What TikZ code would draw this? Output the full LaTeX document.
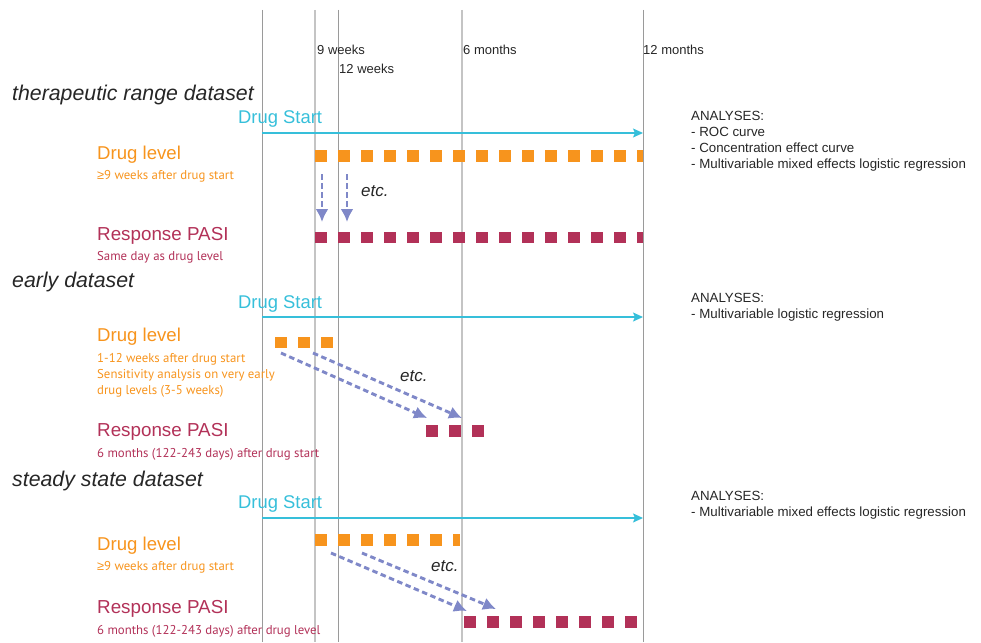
\documentclass[tikz,border=0pt]{standalone}
\usepackage{fontspec}
\setmainfont{Liberation Sans}
\newfontfamily\subfont{PT Sans}
\newfontfamily\symfont{Liberation Sans}
\usetikzlibrary{arrows.meta}
\definecolor{orng}{HTML}{F7941D}
\definecolor{magn}{HTML}{B23158}
\definecolor{cyn}{HTML}{36BFDA}
\definecolor{peri}{HTML}{7F88C8}
\definecolor{txt}{HTML}{262626}
\definecolor{grid}{HTML}{9A9A9A}
\definecolor{gridl}{HTML}{C4C4C4}
\tikzset{
  vline/.style={draw=grid, line width=0.9pt},
  vlinel/.style={draw=gridl, line width=1.6pt},
  tlabel/.style={anchor=west, inner sep=0pt, text=txt, font=\fontsize{13}{15}\selectfont},
  title/.style={anchor=west, inner sep=0pt, text=txt, font=\fontsize{21.3}{24}\selectfont\itshape},
  startlbl/.style={anchor=west, inner sep=0pt, text=cyn, font=\fontsize{18.4}{22}\selectfont},
  lvl/.style={anchor=west, inner sep=0pt, text=orng, font=\fontsize{18.6}{22}\selectfont},
  lvlsub/.style={anchor=west, inner sep=0pt, text=orng, align=left, font=\subfont\fontsize{12.8}{16}\selectfont},
  resp/.style={anchor=west, inner sep=0pt, text=magn, font=\fontsize{18.8}{22}\selectfont},
  respsub/.style={anchor=west, inner sep=0pt, text=magn, font=\subfont\fontsize{12.8}{15}\selectfont},
  etcl/.style={anchor=west, inner sep=0pt, text=txt, font=\fontsize{17}{20}\selectfont\itshape},
  analy/.style={anchor=west, inner sep=0pt, text=txt, align=left, font=\fontsize{13.3}{16}\selectfont},
  startarrow/.style={draw=cyn, line width=1.4pt, -{Stealth[length=10pt,width=9pt,inset=2pt]}},
  sqo/.style={draw=orng, line width=11.5pt, dash pattern=on 12pt off 11pt},
  sqm/.style={draw=magn, line width=11.5pt, dash pattern=on 12pt off 11pt},
  flow/.style={draw=peri, line width=2.9pt, dash pattern=on 5.5pt off 3.5pt, -{Latex[length=13pt,width=13pt]}}
}
\begin{document}
\begin{tikzpicture}[x=1pt,y=-1pt]
\useasboundingbox (0,0) rectangle (981,642);
% vertical time lines
\draw[vline] (262,10) -- (262,642);
\draw[vlinel] (315,10) -- (315,642);
\draw[vline] (338,10) -- (338,642);
\draw[vlinel] (462,10) -- (462,642);
\draw[vline] (643,10) -- (643,642);
% time labels
\node[tlabel] (w9) at (317,50) {9 weeks};
\node[tlabel] (w12) at (339,69) {12 weeks};
\node[tlabel] (m6) at (463,50) {6 months};
\node[tlabel] (m12) at (643,50) {12 months};

% ===== therapeutic range dataset
\node[title] (t1) at (12,95) {therapeutic range dataset};
\node[startlbl] (s1) at (238,119) {Drug Start};
\coordinate (s1a) at (262,133);
\coordinate (s1b) at (643,133);
\draw[startarrow] (s1a) -- (s1b);
\node[lvl] (l1) at (97,155) {Drug level};
\node[lvlsub] (l1s) at (97,176) {{\symfont ≥}9 weeks after drug start};
\coordinate (o1a) at (315,156); \coordinate (o1b) at (643,156);
\draw[sqo] (o1a) -- (o1b);
\node[resp] (r1) at (97,236) {Response PASI};
\node[respsub] (r1s) at (97,257) {Same day as drug level};
\coordinate (m1a) at (315,237.5); \coordinate (m1b) at (643,237.5);
\draw[sqm] (m1a) -- (m1b);
\coordinate (f1a) at (322,174); \coordinate (f1b) at (322,222);
\coordinate (f2a) at (347,174); \coordinate (f2b) at (347,222);
\draw[flow] (f1a) -- (f1b);
\draw[flow] (f2a) -- (f2b);
\node[etcl] (e1) at (361,191) {etc.};
\node[analy] (a1) at (691,141.5) {ANALYSES:\\- ROC curve\\- Concentration effect curve\\- Multivariable mixed effects logistic regression};

% ===== early dataset
\node[title] (t2) at (12,282) {early dataset};
\node[startlbl] (s2) at (238,304) {Drug Start};
\coordinate (s2a) at (262,317);
\coordinate (s2b) at (643,317);
\draw[startarrow] (s2a) -- (s2b);
\node[lvl] (l2) at (97,337) {Drug level};
\node[lvlsub] (l2s) at (97,375) {1-12 weeks after drug start\\Sensitivity analysis on very early\\drug levels (3-5 weeks)};
\coordinate (o2a) at (275,342.5); \coordinate (o2b) at (333,342.5);
\draw[sqo] (o2a) -- (o2b);
\node[resp] (r2) at (97,432) {Response PASI};
\node[respsub] (r2s) at (97,454) {6 months (122-243 days) after drug start};
\coordinate (m2a) at (426,431); \coordinate (m2b) at (484,431);
\draw[sqm] (m2a) -- (m2b);
\coordinate (f3a) at (281,353); \coordinate (f3b) at (427,418);
\coordinate (f4a) at (313,353); \coordinate (f4b) at (462,418);
\draw[flow] (f3a) -- (f3b);
\draw[flow] (f4a) -- (f4b);
\node[etcl] (e2) at (400,376) {etc.};
\node[analy] (a2) at (691,307.5) {ANALYSES:\\- Multivariable logistic regression};

% ===== steady state dataset
\node[title] (t3) at (12,481) {steady state dataset};
\node[startlbl] (s3) at (238,504) {Drug Start};
\coordinate (s3a) at (262,518);
\coordinate (s3b) at (643,518);
\draw[startarrow] (s3a) -- (s3b);
\node[lvl] (l3) at (97,546) {Drug level};
\node[lvlsub] (l3s) at (97,567) {{\symfont ≥}9 weeks after drug start};
\coordinate (o3a) at (315,540); \coordinate (o3b) at (460,540);
\draw[sqo] (o3a) -- (o3b);
\node[resp] (r3) at (97,609) {Response PASI};
\node[respsub] (r3s) at (97,631) {6 months (122-243 days) after drug level};
\coordinate (m3a) at (464,622); \coordinate (m3b) at (637,622);
\draw[sqm] (m3a) -- (m3b);
\coordinate (f5a) at (331,553); \coordinate (f5b) at (467,611);
\coordinate (f6a) at (362,553); \coordinate (f6b) at (496,609);
\draw[flow] (f5a) -- (f5b);
\draw[flow] (f6a) -- (f6b);
\node[etcl] (e3) at (431,566) {etc.};
\node[analy] (a3) at (691,505) {ANALYSES:\\- Multivariable mixed effects logistic regression};
\end{tikzpicture}
\end{document}
